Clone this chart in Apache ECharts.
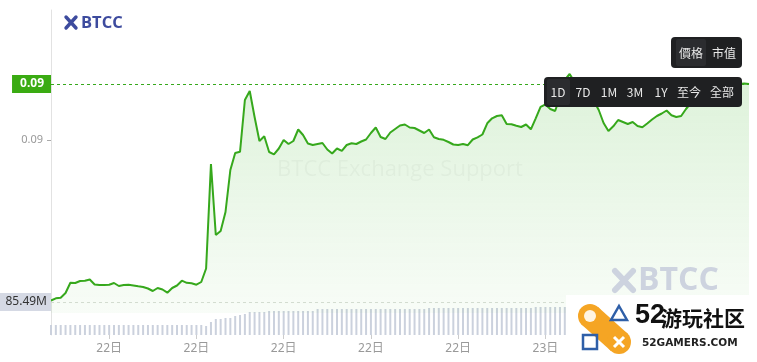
<!DOCTYPE html>
<html><head><meta charset="utf-8">
<script src="https://cdn.jsdelivr.net/npm/echarts@6/dist/echarts.min.js"></script>
<style>html,body{margin:0;padding:0;background:#fff}#c{width:757px;height:362px}</style>
</head><body><div id="c"></div>
<script>
// 10-minute samples, 22日 07:00 -> 23日 07:00
const prices = [0.088395,0.088417,0.088423,0.08847,0.088572,0.08857,0.08859,0.088593,0.088605,0.088555,
0.08855,0.08855,0.088553,0.08857,0.08854,0.08855,0.088552,0.088545,0.088537,0.08853,
0.088515,0.08849,0.08852,0.088505,0.088473,0.08852,0.088545,0.088593,0.088572,0.088567,
0.088553,0.08858,0.088715,0.08976,0.08905,0.08909,0.08928,0.0897,0.08987,0.089883,
0.0904,0.09049,0.09023,0.08999,0.090037,0.08988,0.089857,0.089915,0.09,0.08996,
0.08999,0.090105,0.09005,0.089965,0.08995,0.08996,0.08997,0.089905,0.089865,0.089915,
0.089892,0.08995,0.089967,0.08996,0.089985,0.090005,0.09007,0.090125,0.09003,0.09001,
0.090075,0.09011,0.090145,0.090155,0.090125,0.09012,0.090095,0.09007,0.090105,0.090027,
0.09001,0.090002,0.08998,0.089955,0.08995,0.08996,0.089948,0.090005,0.090027,0.090055,
0.090167,0.090217,0.09024,0.090247,0.09016,0.090158,0.090143,0.09013,0.090155,0.090107,
0.090217,0.090332,0.090355,0.09031,0.09029,0.09043,0.0906,0.09066,0.09058,0.0905,
0.09048,0.09043,0.09039,0.0903,0.09017,0.09009,0.090137,0.0902,0.09018,0.09016,
0.09018,0.09014,0.090127,0.090165,0.090205,0.09024,0.090265,0.090295,0.090248,0.09023,
0.09024,0.09031,0.09037,0.09042,0.09046,0.09049,0.09051,0.09053,0.090535,0.09054,
0.09055,0.090555,0.09056,0.090565,0.09056];
const volumes = [10,10,10,10,10,10,10,10,10,10,10,10,10,10,10,10,10,10,10,10,10,10,10,10,10,10,10,10,10,10,10,10,
9,13,16,16,17,17,19,20,21,23,23,23,23,24,24,
24,24,24,24,24,24,24,24,
26,26,26,26,26,26,26,26,26,26,26,26,26,26,26,26,26,26,26,26,26,26,26,
27,27,27,27,27,27,27,27,27,27,27,27,27,27,27,27,27,27,27,27,27,27,
28,28,28,28,28,28,
28,28,28,28,28,28,28,28,28,28,28,28,28,28,28,28,28,28,28,28,28,28,28,28,28,28,28,28,28,28,28,28,28,28,28,28,28,28,28];
const tickIndex = [12,30,48,66,84,102,120,138];
const tickLabels = ['22日','22日','22日','22日','22日','23日','23日','23日'];
const yTickValues = [0.09];
const currentPrice = prices[prices.length-1];
const capLevel = 0.08838;
const capLabel = '85.49M';
const times = prices.map((_, i) => { const m = 7*60 + i*10; const d = m >= 1440 ? 23 : 22; const mm = m % 1440; return d + '日 ' + String(Math.floor(mm/60)).padStart(2,'0') + ':' + String(mm%60).padStart(2,'0'); });

const chart = echarts.init(document.getElementById('c'), null, {renderer:'canvas'});
const FONT = '"Noto Sans", "Noto Sans CJK TC", sans-serif';
const isTick = (idx) => tickIndex.indexOf(idx) >= 0;
const green = '#36a81c';
const btnFill = '#1f2022';
function txt(x, y, s, opt, z) {
  return {type:'text', x:x, y:y, z:(z||120), silent:true,
    style:Object.assign({text:s, fill:'#e8e8e8', fontSize:12, fontFamily:'"Noto Sans CJK TC", sans-serif', align:'center', verticalAlign:'middle'}, opt||{})};
}
const btnLabels = ['1D','7D','1M','3M','1Y','至今','全部'];
const btnX = [558,583,609,635,661,689,722];
const graphics = [
  // top-left logo
  {type:'line', z:120, shape:{x1:66,y1:17,x2:76,y2:28}, style:{stroke:'#3d4b9e', lineWidth:3.4, lineCap:'round'}},
  {type:'line', z:120, shape:{x1:76,y1:17,x2:66,y2:28}, style:{stroke:'#3d4b9e', lineWidth:3.4, lineCap:'round'}},
  txt(81, 23, 'BTCC', {fill:'#3d4b9e', fontSize:16.5, fontWeight:'bold', fontFamily:'"Open Sans", sans-serif', align:'left'}),
  // faint watermark
  txt(400, 170, 'BTCC Exchange Support', {fill:'rgba(0,0,0,0.035)', fontSize:22, fontFamily:'"Open Sans", sans-serif'}),
  // bottom-right BTCC watermark
  {type:'line', z:110, shape:{x1:615,y1:271,x2:633,y2:290}, style:{stroke:'#cdd3df', lineWidth:6, lineCap:'round'}},
  {type:'line', z:110, shape:{x1:633,y1:271,x2:615,y2:290}, style:{stroke:'#cdd3df', lineWidth:6, lineCap:'round'}},
  txt(638, 281, 'BTCC', {fill:'#cdd3df', fontSize:32, fontWeight:'bold', fontFamily:'"Open Sans", sans-serif', align:'left'}),
  // price / mcap switch
  {type:'rect', z:115, shape:{x:671,y:37,width:71,height:31,r:4}, style:{fill:btnFill}},
  {type:'rect', z:116, shape:{x:676,y:39,width:30,height:27,r:2}, style:{fill:'#2b2c2f'}},
  txt(691, 53, '價格'), txt(724, 53, '市值'),
  // range buttons
  {type:'rect', z:115, shape:{x:544,y:77,width:198,height:30,r:4}, style:{fill:btnFill}},
  {type:'rect', z:116, shape:{x:547,y:79,width:23,height:26,r:2}, style:{fill:'#2b2c2f'}},
].concat(btnLabels.map((b,i)=>txt(btnX[i], 92, b))).concat([
  // 52gamers watermark
  {type:'rect', z:130, shape:{x:566,y:295,width:191,height:67}, style:{fill:'#ffffff'}},
  {type:'polygon', z:131, shape:{points:[[581,324],[598,307],[628,334],[611,351]]}, style:{fill:'#f5a524'}},
  {type:'circle', z:131, shape:{cx:590,cy:316,r:12}, style:{fill:'#f5a524'}},
  {type:'circle', z:131, shape:{cx:619,cy:342,r:12}, style:{fill:'#f5a524'}},
  {type:'circle', z:132, shape:{cx:590,cy:316,r:6}, style:{fill:'#fff4e2'}},
  {type:'polygon', z:132, shape:{points:[[619,306],[627,320],[611,320]]}, style:{fill:'none', stroke:'#2f5fa8', lineWidth:2.5}},
  {type:'rect', z:132, shape:{x:583,y:335,width:14,height:14}, style:{fill:'none', stroke:'#2f5fa8', lineWidth:2.5}},
  {type:'line', z:132, shape:{x1:614,y1:337,x2:624,y2:347}, style:{stroke:'#fff', lineWidth:3}},
  {type:'line', z:132, shape:{x1:624,y1:337,x2:614,y2:347}, style:{stroke:'#fff', lineWidth:3}},
  txt(635, 316, '52', {fill:'#111', fontSize:27, fontWeight:'bold', fontFamily:'"Liberation Sans Narrow","Liberation Sans", sans-serif', align:'left'}, 133),
  txt(661, 318, '游玩社区', {fill:'#111', fontSize:21, fontWeight:'bold', fontFamily:'"Noto Sans CJK SC", sans-serif', align:'left'}, 133),
  txt(642, 343, '52GAMERS.COM', {fill:'#222', fontSize:10.5, fontWeight:'bold', fontFamily:'"DejaVu Sans", sans-serif', align:'left'}, 133)
]);

chart.setOption({
  animation:false,
  textStyle:{fontFamily:FONT},
  grid:[{left:51,right:8,top:10,height:303},{left:51,right:8,top:300,height:35}],
  xAxis:[
    {type:'category', gridIndex:0, data:times, boundaryGap:false, show:false},
    {type:'category', gridIndex:1, data:times, boundaryGap:false,
      axisLine:{show:false},
      axisTick:{show:true, interval:(idx)=>isTick(idx), length:4, lineStyle:{color:'#cccccc'}},
      axisLabel:{interval:(idx)=>isTick(idx), formatter:(v, idx)=>tickLabels[tickIndex.indexOf(idx)] || '', color:'#999', fontSize:12, margin:8}}
  ],
  yAxis:[
    {type:'value', gridIndex:0, min:0.08827, max:0.0913, splitLine:{show:false},
      axisLine:{show:true, lineStyle:{color:'#e2e2e2'}},
      axisTick:{show:true, customValues:yTickValues, length:4, lineStyle:{color:'#aaa'}},
      axisLabel:{customValues:yTickValues, formatter:(v)=>v.toFixed(2), color:'#999', fontSize:11, margin:8}},
    {type:'value', gridIndex:1, min:0, max:35, splitLine:{show:false},
      axisLine:{show:true, lineStyle:{color:'#e2e2e2'}}, axisTick:{show:false}, axisLabel:{show:false}}
  ],
  series:[
    {type:'bar', xAxisIndex:1, yAxisIndex:1, data:volumes, barWidth:2, itemStyle:{color:'#cbd1dd'}, silent:true, z:1},
    {type:'line', xAxisIndex:0, yAxisIndex:0, data:prices, symbol:'none', z:3,
      lineStyle:{color:green, width:2},
      areaStyle:{origin:'start', color:new echarts.graphic.LinearGradient(0,0,0,1,[{offset:0,color:'rgba(60,180,40,0.25)'},{offset:1,color:'rgba(60,180,40,0.05)'}])},
      markLine:{silent:true, precision:6, symbol:['none','none'], animation:false,
        data:[
          {yAxis:currentPrice, lineStyle:{color:green, type:[3,3], width:1},
            label:{position:'start', distance:0, formatter:()=>currentPrice.toFixed(2), backgroundColor:'#3aab12', color:'#fff', fontSize:12, fontWeight:'bold', padding:[3,7,3,8]}},
          {yAxis:capLevel, lineStyle:{color:'#d3dcd0', type:[3,3], width:1},
            label:{position:'start', distance:0, formatter:()=>capLabel, backgroundColor:'#d5d9e4', color:'#333', fontSize:12, padding:[3,4,3,6]}}
        ]}}
  ],
  graphic:graphics
});
</script></body></html>
